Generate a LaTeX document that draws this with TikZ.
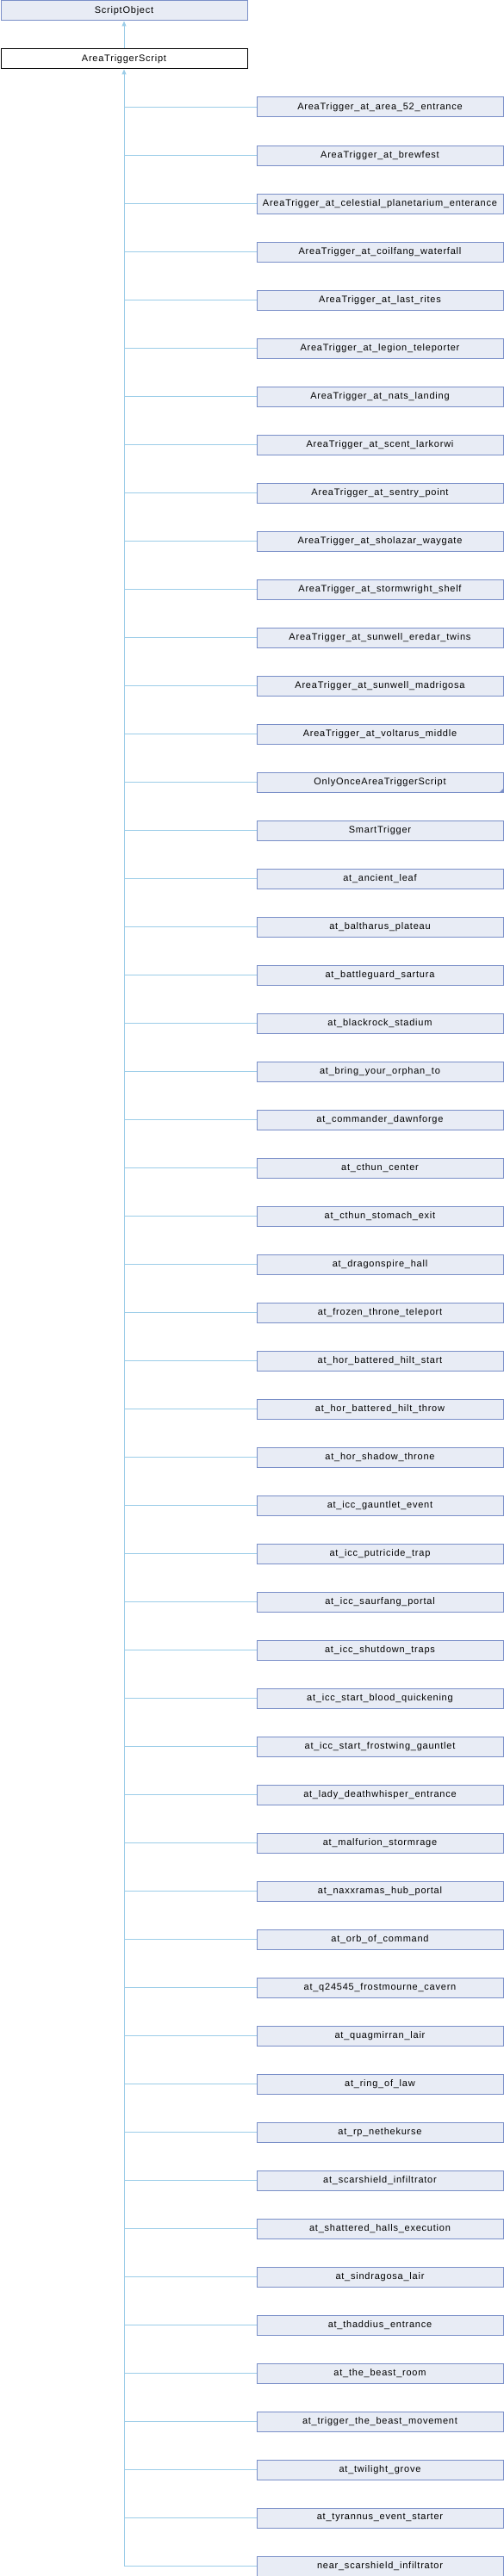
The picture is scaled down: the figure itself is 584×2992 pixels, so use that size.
\documentclass[tikz,border=0pt]{standalone}
\usepackage{fontspec}
\newfontfamily\doxfont[LetterSpace=7]{Liberation Sans}
\usetikzlibrary{arrows.meta}
\definecolor{boxfill}{HTML}{E8ECF5}
\definecolor{boxline}{HTML}{7A8FC8}
\definecolor{edgecol}{HTML}{9CCDE8}
\begin{document}
\begin{tikzpicture}[x=1pt,y=-1pt,
  classbox/.style={draw=boxline, fill=boxfill, line width=1pt, minimum width=286pt, minimum height=23pt, inner sep=0pt, font=\doxfont\fontsize{11}{13}\selectfont, anchor=north west},
  mainbox/.style={classbox, draw=black, fill=white},
  edgeline/.style={draw=edgecol, line width=1pt},
  uptip/.style={-{Triangle[width=5pt,length=6pt]}}]
\useasboundingbox (0,0) rectangle (584,2992);
\node[classbox] (p0) at (0.5,0.5) {ScriptObject};
\node[mainbox] (p1) at (0.5,56.5) {AreaTriggerScript};
\draw[edgeline, uptip] (p1.north) -- (p0.south);
\foreach \lab [count=\i] in {
AreaTrigger\_at\_area\_52\_entrance,
AreaTrigger\_at\_brewfest,
AreaTrigger\_at\_celestial\_planetarium\_enterance,
AreaTrigger\_at\_coilfang\_waterfall,
AreaTrigger\_at\_last\_rites,
AreaTrigger\_at\_legion\_teleporter,
AreaTrigger\_at\_nats\_landing,
AreaTrigger\_at\_scent\_larkorwi,
AreaTrigger\_at\_sentry\_point,
AreaTrigger\_at\_sholazar\_waygate,
AreaTrigger\_at\_stormwright\_shelf,
AreaTrigger\_at\_sunwell\_eredar\_twins,
AreaTrigger\_at\_sunwell\_madrigosa,
AreaTrigger\_at\_voltarus\_middle,
OnlyOnceAreaTriggerScript,
SmartTrigger,
at\_ancient\_leaf,
at\_baltharus\_plateau,
at\_battleguard\_sartura,
at\_blackrock\_stadium,
at\_bring\_your\_orphan\_to,
at\_commander\_dawnforge,
at\_cthun\_center,
at\_cthun\_stomach\_exit,
at\_dragonspire\_hall,
at\_frozen\_throne\_teleport,
at\_hor\_battered\_hilt\_start,
at\_hor\_battered\_hilt\_throw,
at\_hor\_shadow\_throne,
at\_icc\_gauntlet\_event,
at\_icc\_putricide\_trap,
at\_icc\_saurfang\_portal,
at\_icc\_shutdown\_traps,
at\_icc\_start\_blood\_quickening,
at\_icc\_start\_frostwing\_gauntlet,
at\_lady\_deathwhisper\_entrance,
at\_malfurion\_stormrage,
at\_naxxramas\_hub\_portal,
at\_orb\_of\_command,
at\_q24545\_frostmourne\_cavern,
at\_quagmirran\_lair,
at\_ring\_of\_law,
at\_rp\_nethekurse,
at\_scarshield\_infiltrator,
at\_shattered\_halls\_execution,
at\_sindragosa\_lair,
at\_thaddius\_entrance,
at\_the\_beast\_room,
at\_trigger\_the\_beast\_movement,
at\_twilight\_grove,
at\_tyrannus\_event\_starter,
near\_scarshield\_infiltrator} {
  \node[classbox] (c\i) at (297.5,{112.5+56*(\i-1)}) {\lab};
  \draw[edgeline] (c\i.west) -- (p1.south |- c\i.west);
}
\draw[edgeline, uptip] (p1.south |- c52.west) -- (p1.south);
\fill[boxline] (c15.south east) -- ++(-5,0) -- ++(5,-5) -- cycle;
\end{tikzpicture}
\end{document}
